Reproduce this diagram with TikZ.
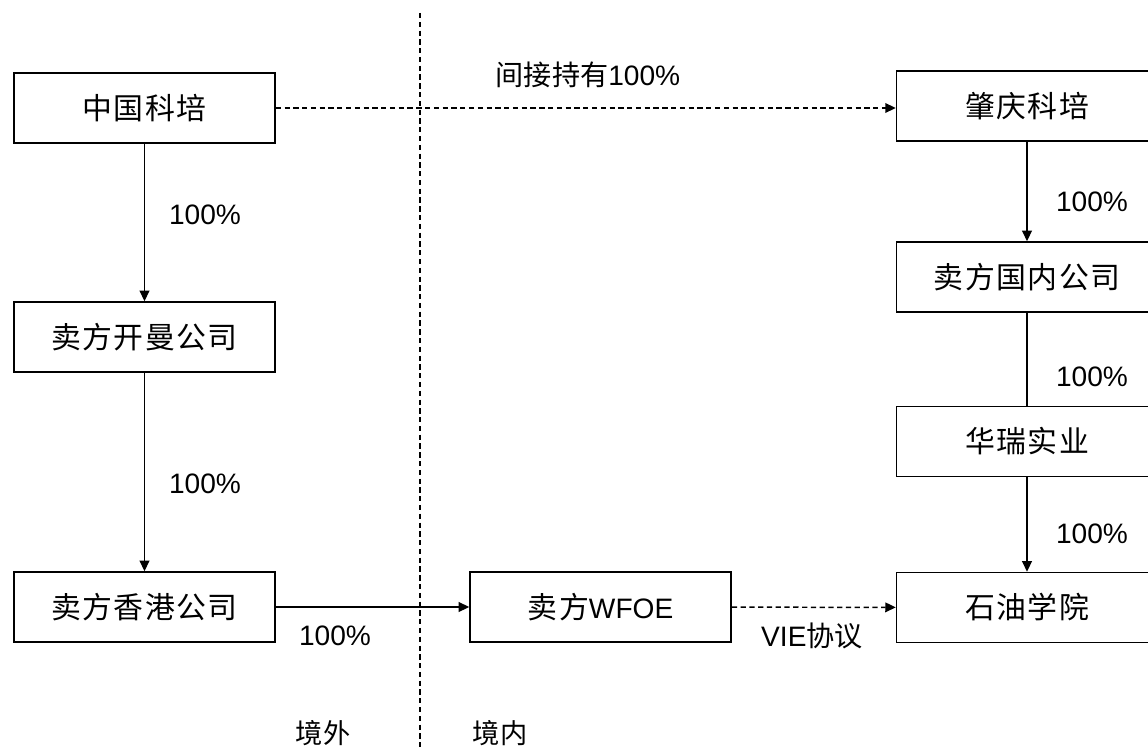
\documentclass[tikz,border=0pt]{standalone}
\usepackage{fontspec}
\setmainfont{Liberation Sans}
\newfontfamily\latinf{Liberation Sans}
\newfontfamily\cjk{Noto Sans CJK SC}
\newfontfamily\cjkbox[LetterSpace=5]{Noto Sans CJK SC}
\usetikzlibrary{arrows.meta}
\begin{document}
\begin{tikzpicture}[x=0.02cm,y=-0.02cm,
 box/.style={draw, line width=0.85pt, minimum width=5.22cm, minimum height=1.4cm, inner sep=0pt, font=\cjkbox\fontsize{17}{17}\selectfont},
 lab/.style={font=\fontsize{16}{16}\selectfont, inner sep=0pt},
 arr/.style={line width=0.85pt, -{Triangle[length=6pt,width=5.5pt]}},
 ln/.style={line width=0.85pt},
 dsh/.style={dash pattern=on 3pt off 2pt}]
\useasboundingbox (0,0) rectangle (1148,750);
\clip (0,0) rectangle (1148,750);
\fill[white] (0,0) rectangle (1148,750);
% divider
\coordinate (dtop) at (420,13);
\coordinate (dbot) at (420,750);
\draw[ln,dsh] (dtop) -- (dbot);
% left column
\node[box] (zgkp) at (144.5,108) {中国科培};
\node[box] (km) at (144.5,337) {卖方开曼公司};
\node[box] (hk) at (144.5,607) {卖方香港公司};
% middle
\node[box] (wfoe) at (600.5,607) {卖方{\latinf\fontsize{16}{16}\selectfont WFOE}};
% right column
\node[box] (zq) at (1027,106) {肇庆科培};
\node[box] (gn) at (1027,277) {卖方国内公司};
\node[box] (hr) at (1027,441.5) {华瑞实业};
\node[box] (sy) at (1027,607.5) {石油学院};
% connectors
\draw[arr] (zgkp) -- (km);
\draw[arr] (km) -- (hk);
\draw[arr] (hk) -- (wfoe);
\draw[arr,dsh] (wfoe) -- (sy);
\draw[arr,dsh] (zgkp.east |- 0,108) -- (zq.west |- 0,108);
\draw[arr] (zq) -- (gn);
\draw[ln] (gn) -- (hr);
\draw[arr] (hr) -- (sy);
% labels
\node[lab] (l1) at (205,215) {100\%};
\node[lab] (l2) at (205,484) {100\%};
\node[lab] (l3) at (335,636) {100\%};
\node[lab] (l4) at (812,636) {VIE{\cjk 协议}};
\node[lab] (l5) at (588,75) {{\cjk 间接持有}100\%};
\node[lab] (l6) at (1092,202) {100\%};
\node[lab] (l7) at (1092,377) {100\%};
\node[lab] (l8) at (1092,534) {100\%};
\node[lab,font=\cjk\fontsize{15.5}{15.5}\selectfont] (jw) at (323,733) {境外};
\node[lab,font=\cjk\fontsize{15.5}{15.5}\selectfont] (jn) at (500,733) {境内};
\end{tikzpicture}
\end{document}
